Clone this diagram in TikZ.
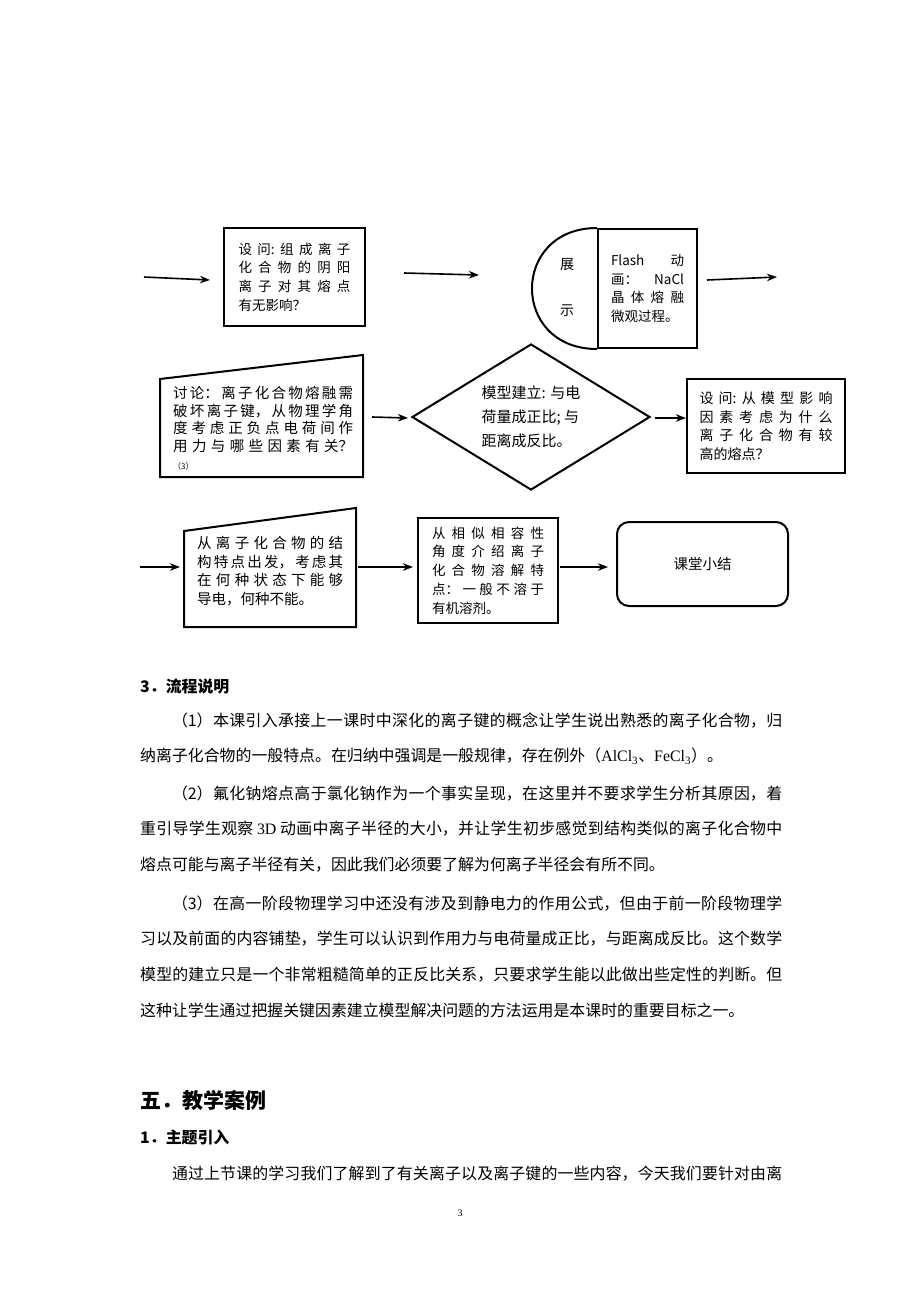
\documentclass[tikz,border=0pt]{standalone}
\usepackage{fontspec}
\setmainfont{Noto Sans CJK SC}
\newfontfamily\latinfont{Liberation Serif}
\usetikzlibrary{arrows.meta,
                shapes.geometric}
\XeTeXlinebreaklocale "zh"
\XeTeXlinebreakskip = 0pt plus 8pt minus 1pt

\begin{document}
\begin{tikzpicture}%
            [x = 1pt, y = -1pt,
             >={Stealth[length = 10pt, width = 7.5pt, inset = 3pt]},
             flow/.style = {->, line width = 1.6pt},
             box/.style = {draw, line width = 2.2pt, inner sep = 0pt, align = justify},
             boxfont/.style = {font = \fontsize{13.5}{18.7}\selectfont},
             para/.style = {anchor = base west, inner sep = 0pt, text width = 642pt,
                            align = justify, font = \fontsize{15.9}{35.8}\selectfont},
             head/.style = {anchor = base west, inner sep = 0pt,
                            font = \fontsize{15.9}{20}\selectfont\bfseries}]
            \useasboundingbox (0,0) rectangle (920,1302);
            \fill [white] (0,0) rectangle (920,1302);

            % first row
            \node (ask) [box, line width = 2.6pt, minimum width = 141pt, minimum height = 98pt,
                         text width = 112pt, boxfont] at (294.5,277)
                  {设问:组成离子\break 化合物的阴阳\break 离子对其熔点\break 有无影响？};
            \node (anim) [box, line width = 2pt, minimum width = 99pt, minimum height = 119pt,
                          text width = 73pt, boxfont] at (647.5,288.5)
                  {Flash 动\break 画：NaCl\break 晶体熔融\break 微观过程。};
            \draw [line width = 2pt] (anim.north west) .. controls +(-86.7,0) and +(-86.7,0) .. (anim.south west);
            \node (show) [font = \fontsize{14}{14}\selectfont] at (567,265) {展};
            \node (showb) [font = \fontsize{14}{14}\selectfont] at (567,311) {示};

            \coordinate (r1a) at (144,277);
            \coordinate (r1b) at (210,280);
            \coordinate (r1c) at (404,273);
            \coordinate (r1d) at (479,275);
            \coordinate (r1e) at (707,280);
            \coordinate (r1f) at (777,277);
            \draw [flow] (r1a) -- (r1b);
            \draw [flow] (r1c) -- (r1d);
            \draw [flow] (r1e) -- (r1f);

            % second row
            \draw [line width = 2pt] (160,379) -- (363,355) -- (363,477) -- (160,477) -- cycle;
            \node (talk) [anchor = base west, inner sep = 0pt, text width = 180pt, align = justify,
                          font = \fontsize{14.5}{17.7}\selectfont] at (173,398.5)
                  {讨论：离子化合物熔融需\break 破坏离子键，从物理学角\break 度考虑正负点电荷间作\break 用力与哪些因素有关？\break {\fontsize{8}{17.7}\selectfont （3）}};
            \node (model) [diamond, draw, line width = 2pt, minimum width = 238pt, minimum height = 146pt,
                           inner sep = 0pt, aspect = 1.6, align = left,
                           font = \fontsize{15}{24}\selectfont] at (531,417)
                  {模型建立: 与电\\荷量成正比; 与\\距离成反比。};
            \node (why) [box, minimum width = 158pt, minimum height = 94pt,
                         text width = 133pt, font = \fontsize{14}{18.5}\selectfont] at (766,426)
                  {设问:从模型影响\break 因素考虑为什么\break 离子化合物有较\break 高的熔点？};

            \coordinate (r2a) at (372,417);
            \coordinate (r2b) at (408,418);
            \coordinate (r2c) at (655,418);
            \coordinate (r2d) at (686,418);
            \draw [flow] (r2a) -- (r2b);
            \draw [flow] (r2c) -- (r2d);

            % third row
            \draw [line width = 2pt] (184,531) -- (356,508) -- (356,627) -- (184,627) -- cycle;
            \node (conduct) [anchor = base west, inner sep = 0pt, text width = 146pt, align = justify,
                             font = \fontsize{14.5}{18.7}\selectfont] at (197,548.5)
                  {从离子化合物的结\break 构特点出发，考虑其\break 在何种状态下能够\break 导电，何种不能。};
            \node (dissolve) [box, minimum width = 140pt, minimum height = 105pt,
                              text width = 112pt, boxfont] at (488,570.5)
                  {从相似相容性\break 角度介绍离子\break 化合物溶解特\break 点：一般不溶于\break 有机溶剂。};
            \node (summary) [draw, rounded corners = 12pt, line width = 2pt, minimum width = 171pt,
                             minimum height = 84pt, font = \fontsize{14.5}{14.5}\selectfont] at (702.5,564)
                  {课堂小结};

            \coordinate (r3a) at (140,567);
            \coordinate (r3b) at (180,567);
            \coordinate (r3c) at (358,567);
            \coordinate (r3d) at (413,567);
            \coordinate (r3e) at (560,567);
            \coordinate (r3f) at (608,567);
            \draw [flow] (r3a) -- (r3b);
            \draw [flow] (r3c) -- (r3d);
            \draw [flow] (r3e) -- (r3f);

            % text below the chart
            \node (headflow) [head] at (140,692) {3．流程说明};
            \node (para1) [para] at (140,726)
                  {\hspace*{2em}（1）本课引入承接上一课时中深化的离子键的概念让学生说出熟悉的离子化合物，归\break 纳离子化合物的一般特点。在归纳中强调是一般规律，存在例外（{\latinfont AlCl\textsubscript{3}}、{\latinfont FeCl\textsubscript{3}}）。};
            \node (para2) [para] at (140,799)
                  {\hspace*{2em}（2）氟化钠熔点高于氯化钠作为一个事实呈现，在这里并不要求学生分析其原因，着\break 重引导学生观察 {\latinfont 3D} 动画中离子半径的大小，并让学生初步感觉到结构类似的离子化合物中\break 熔点可能与离子半径有关，因此我们必须要了解为何离子半径会有所不同。};
            \node (para3) [para] at (140,909)
                  {\hspace*{2em}（3）在高一阶段物理学习中还没有涉及到静电力的作用公式，但由于前一阶段物理学\break 习以及前面的内容铺垫，学生可以认识到作用力与电荷量成正比，与距离成反比。这个数学\break 模型的建立只是一个非常粗糙简单的正反比关系，只要求学生能以此做出些定性的判断。但\break 这种让学生通过把握关键因素建立模型解决问题的方法运用是本课时的重要目标之一。};
            \node (headcase) [head, font = \fontsize{21}{24}\selectfont\bfseries] at (140,1108) {五．教学案例};
            \node (headintro) [head] at (140,1143) {1．主题引入};
            \node (para4) [para] at (140,1179)
                  {\hspace*{2em}通过上节课的学习我们了解到了有关离子以及离子键的一些内容，今天我们要针对由离\break\null};
            \node (pagenum) [font = \fontsize{10}{12}\selectfont\latinfont] at (460,1213) {3};
\end{tikzpicture}
\end{document}
